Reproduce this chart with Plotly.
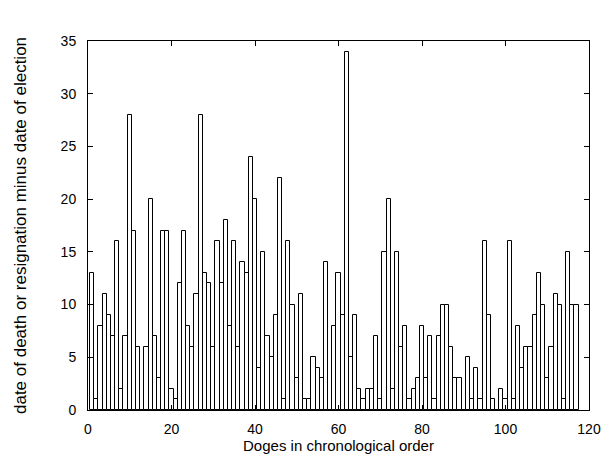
import numpy as np
import plotly.graph_objects as go

# years each doge held office (death or resignation minus election), in chronological order
reign_years = [
    13, 1, 8, 11, 9, 7, 16, 2, 7, 28,
    17, 6, 0, 6, 20, 7, 3, 17, 17, 2,
    1, 12, 17, 8, 6, 11, 28, 13, 12, 6,
    16, 12, 18, 8, 16, 6, 14, 13, 24, 20,
    4, 15, 7, 5, 9, 22, 1, 16, 10, 3,
    11, 1, 1, 5, 4, 3, 14, 0, 8, 13,
    9, 34, 5, 9, 2, 1, 2, 2, 7, 1,
    15, 20, 2, 15, 6, 8, 1, 2, 3, 8,
    3, 7, 1, 7, 10, 10, 6, 3, 3, 0,
    5, 1, 4, 1, 16, 9, 1, 0, 2, 1,
    16, 1, 8, 4, 6, 6, 9, 13, 10, 3,
    6, 11, 10, 1, 15, 10, 10,
]
doge_number = np.arange(1, len(reign_years) + 1)

x_ticks = [0, 20, 40, 60, 80, 100, 120]
y_ticks = [0, 5, 10, 15, 20, 25, 30, 35]

FONT = "Liberation Sans, Arial, sans-serif"

fig = go.Figure(go.Bar(
    x=doge_number, y=reign_years,
    width=1,
    marker=dict(color="white", line=dict(color="black", width=1)),
    showlegend=False,
))

axis_style = dict(
    showline=True, linecolor="black", linewidth=1, mirror="ticks",
    ticks="inside", ticklen=5, tickwidth=1, tickcolor="black",
    showgrid=False, zeroline=False,
    tickfont=dict(family=FONT, size=14, color="black"),
)

fig.update_xaxes(
    range=[0, 120], tickvals=x_ticks, ticklabelstandoff=6,
    title=dict(text="Doges in chronological order", standoff=2,
               font=dict(family=FONT, size=15, color="black")),
    **axis_style)
fig.update_yaxes(
    range=[0, 35], tickvals=y_ticks, ticklabelstandoff=8,
    title=dict(text="date of death or resignation minus date of election", standoff=29,
               font=dict(family=FONT, size=17, color="black")),
    **axis_style)

# the page body adds an 8px offset, so the figure is sized to the remaining window
fig.update_layout(
    width=605, height=453,
    margin=dict(l=75, r=19, t=33, b=51),
    paper_bgcolor="white", plot_bgcolor="white",
    bargap=0,
    font=dict(family=FONT, size=14, color="black"),
)

fig.write_html("out.html")
